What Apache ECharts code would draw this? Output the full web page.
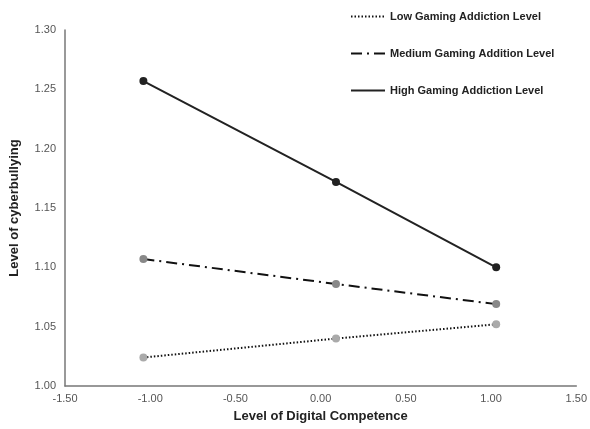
<!DOCTYPE html>
<html><head><meta charset="utf-8">
<script src="https://cdn.jsdelivr.net/npm/echarts@6/dist/echarts.min.js"></script>
<style>html,body{margin:0;padding:0;background:#fff}#c{width:590px;height:429px}</style>
</head><body><div id="c"></div>
<script>
const seriesNames = ['Low Gaming Addiction Level', 'Medium Gaming Addition Level', 'High Gaming Addiction Level'];
const xValues = [-1.04, 0.09, 1.03];
const lowValues = [1.024, 1.040, 1.052];
const mediumValues = [1.107, 1.086, 1.069];
const highValues = [1.257, 1.172, 1.100];

const font = 'Liberation Sans';
function pts(ys){ return xValues.map((x,i)=>[x, ys[i]]); }
const chart = echarts.init(document.getElementById('c'));
chart.setOption({
  animation: false,
  grid: {left: 63, right: 13, top: 30, bottom: 43},
  legend: {
    orient: 'vertical', left: 345, top: 6, itemGap: 26, itemWidth: 34, itemHeight: 10,
    textStyle: {fontFamily: font, fontWeight: 'bold', fontSize: 11, color: '#222'},
    itemStyle: {opacity: 0},
    data: seriesNames
  },
  xAxis: {
    type: 'value', min: -1.5, max: 1.5, interval: 0.5,
    name: 'Level of Digital Competence', nameLocation: 'middle', nameGap: 24,
    nameTextStyle: {fontFamily: font, fontWeight: 'bold', fontSize: 13, color: '#222'},
    axisLine: {show: true, onZero: false, lineStyle: {color: '#777', width: 1.5}},
    axisTick: {show: false}, splitLine: {show: false},
    axisLabel: {fontFamily: font, fontSize: 11, color: '#555', margin: 7, formatter: v => v.toFixed(2)}
  },
  yAxis: {
    type: 'value', min: 1.0, max: 1.3, interval: 0.05,
    name: 'Level of cyberbullying', nameLocation: 'middle', nameGap: 44,
    nameTextStyle: {fontFamily: font, fontWeight: 'bold', fontSize: 13, color: '#222'},
    axisLine: {show: true, onZero: false, lineStyle: {color: '#777', width: 1.5}},
    axisTick: {show: false}, splitLine: {show: false},
    axisLabel: {fontFamily: font, fontSize: 11, color: '#555', margin: 9, formatter: v => v.toFixed(2)}
  },
  series: [
    {name: seriesNames[0], type: 'line', data: pts(lowValues), symbol: 'circle', symbolSize: 8,
     itemStyle: {color: '#aaa'}, lineStyle: {color: '#111', width: 2, type: [1.5, 2]}, z: 3},
    {name: seriesNames[1], type: 'line', data: pts(mediumValues), symbol: 'circle', symbolSize: 8,
     itemStyle: {color: '#888'}, lineStyle: {color: '#111', width: 2, type: [11, 5, 2, 5]}, z: 2},
    {name: seriesNames[2], type: 'line', data: pts(highValues), symbol: 'circle', symbolSize: 8,
     itemStyle: {color: '#222'}, lineStyle: {color: '#222', width: 2}, z: 4}
  ]
});
</script></body></html>
